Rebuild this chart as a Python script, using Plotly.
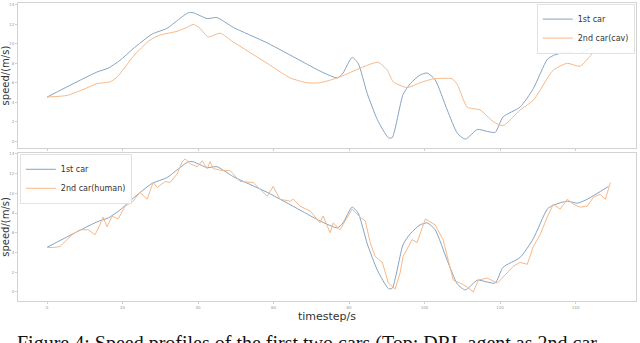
import plotly.graph_objects as go

# ---- data ----
lead_t = [0, 13.2, 16.2, 19.3, 22.8, 27.8, 31.8, 34.5, 37.4, 38.7, 40.5, 42.4, 45.0, 49.3,
          58.3, 67.0, 72.3, 76.9, 78.4, 80.8, 82.4, 84.8, 87.5, 90.4, 91.4, 94.3, 96.2,
          98.8, 100.7, 102.8, 106.0, 108.7, 110.8, 114.0, 116.6, 118.7, 120.8, 125.3,
          128.8, 132.5, 134.1, 137.8, 140.5, 143.1, 148.7]
lead_v = [4.53, 7.1, 7.5, 8.3, 9.5, 11.0, 11.6, 12.4, 13.2, 13.2, 12.9, 12.6, 12.7, 11.7,
          10.1, 8.3, 7.2, 6.5, 7.0, 8.6, 8.0, 4.9, 2.2, 0.35, 0.35, 4.8, 5.9,
          6.8, 7.0, 6.3, 3.2, 0.8, 0.2, 1.2, 1.0, 0.9, 2.5, 3.5,
          5.4, 8.4, 8.8, 9.2, 9.0, 9.4, 10.7]

cav_t = [0, 5.3, 9.5, 13.2, 16.7, 18.6, 22.8, 27.3, 29.9, 34.5, 37.1, 38.7, 40.5, 42.7,
         45.8, 49.3, 58.3, 64.4, 68.9, 72.3, 77.6, 82.9, 87.7, 90.1, 91.7, 95.4, 98.8,
         102.3, 107.3, 108.7, 111.3, 114.7, 118.2, 120.8, 125.3, 128.8, 134.1, 137.8,
         141.2, 144.7, 148.7]
cav_v = [4.53, 4.7, 5.3, 5.9, 6.1, 6.6, 8.7, 10.4, 10.9, 11.3, 11.7, 12.0, 11.6, 10.7,
         11.1, 10.2, 8.0, 6.5, 6.0, 6.0, 6.6, 7.5, 8.1, 7.3, 6.1, 5.5, 6.0,
         6.4, 6.4, 5.8, 3.5, 3.2, 2.0, 1.6, 3.2, 4.2, 7.3, 8.0,
         7.7, 9.1, 10.2]

human_t = [0, 1.6, 3.4, 6.6, 8.7, 10.9, 12.7, 14.0, 14.8, 15.9, 17.2, 18.8, 20.7, 22.8,
           24.6, 26.5, 28.1, 29.2, 31.3, 32.6, 34.5, 35.8, 36.6, 37.9, 39.8, 41.1, 42.4,
           43.2, 44.0, 46.6, 48.5, 51.1, 54.6, 58.3, 59.9, 61.7, 64.4, 65.2, 67.0, 69.7,
           72.3, 73.1, 75.0, 75.8, 77.6, 80.8, 82.9, 84.3, 85.6, 86.9, 88.8, 90.4, 92.2,
           93.5, 94.3, 96.7, 98.0, 99.4, 100.2, 102.8, 104.9, 107.6, 109.4, 111.3, 112.9,
           114.2, 116.6, 119.3, 121.9, 123.5, 125.3, 127.2, 128.8, 130.6, 132.5, 134.1,
           135.9, 137.8, 139.4, 141.2, 143.1, 144.7, 146.5, 147.9, 149.2]
human_v = [4.5, 4.5, 4.6, 5.8, 6.3, 6.3, 5.8, 6.8, 7.6, 6.6, 7.7, 7.4, 8.7, 9.2,
           10.1, 9.4, 11.1, 10.6, 11.2, 11.1, 12.0, 13.2, 13.5, 13.0, 12.7, 13.3, 12.5,
           13.2, 12.5, 12.3, 12.3, 11.2, 11.1, 9.7, 10.7, 9.4, 9.2, 9.4, 8.7, 8.2,
           7.0, 7.7, 6.0, 7.0, 6.3, 8.4, 7.6, 7.2, 5.0, 3.6, 3.0, 0.9, 0.3,
           1.9, 3.6, 5.3, 5.0, 6.6, 7.4, 6.8, 5.3, 1.2, 0.9, 0.5, 0.0,
           1.2, 1.4, 0.9, 1.9, 2.6, 3.0, 2.8, 4.6, 5.8, 7.6, 8.9,
           8.4, 9.4, 8.9, 8.6, 8.7, 9.6, 9.9, 9.4, 11.1]

x_tickvals = [0, 20, 40, 60, 80, 100, 120, 140]
x_ticktext = ["0", "20", "40", "60", "80", "100", "120", "140"]
y_tickvals = [0, 2, 4, 6, 8, 10, 12, 14]
y_ticktext = ["0", "2", "4", "6", "8", "10", "12", "14"]

BLUE = "#86a3c3"
ORANGE = "#f6b888"

fig = go.Figure()
fig.add_trace(go.Scatter(x=lead_t, y=lead_v, mode="lines", name="1st car",
                         line=dict(color=BLUE, width=1, shape="spline", smoothing=0.6),
                         xaxis="x", yaxis="y", legend="legend"))
fig.add_trace(go.Scatter(x=cav_t, y=cav_v, mode="lines", name="2nd car(cav)",
                         line=dict(color=ORANGE, width=1, shape="spline", smoothing=0.6),
                         xaxis="x", yaxis="y", legend="legend"))
fig.add_trace(go.Scatter(x=lead_t, y=lead_v, mode="lines", name="1st car",
                         line=dict(color=BLUE, width=1, shape="spline", smoothing=0.6),
                         xaxis="x2", yaxis="y2", legend="legend2"))
fig.add_trace(go.Scatter(x=human_t, y=human_v, mode="lines", name="2nd car(human)",
                         line=dict(color=ORANGE, width=1),
                         xaxis="x2", yaxis="y2", legend="legend2"))

axis_common = dict(showline=True, mirror=True, linecolor="#d2d2d2", linewidth=1,
                   showgrid=False, zeroline=False, ticks="outside", ticklen=2,
                   tickcolor="#cfcfcf", tickfont=dict(size=4, color="#9a9a9a"),
                   automargin=False)
XR = [-7.7, 156]

fig.update_layout(
    width=640, height=343,
    margin=dict(l=18, r=4, t=3, b=42, autoexpand=False),
    paper_bgcolor="white", plot_bgcolor="white",
    font=dict(family="DejaVu Sans", color="#333"),
    xaxis=dict(domain=[0, 1], anchor="y", range=XR, tickvals=x_tickvals,
               ticktext=x_ticktext, showticklabels=False, **axis_common),
    yaxis=dict(domain=[0.513, 1], anchor="x", range=[-0.72, 14.2], tickvals=y_tickvals,
               ticktext=y_ticktext,
               title=dict(text="speed/(m/s)", font=dict(size=10, color="#333"), standoff=1),
               **axis_common),
    xaxis2=dict(domain=[0, 1], anchor="y2", range=XR, tickvals=x_tickvals,
                ticktext=x_ticktext,
                title=dict(text="timestep/s", font=dict(size=11, color="#333"), standoff=1),
                **axis_common),
    yaxis2=dict(domain=[0, 0.497], anchor="x2", range=[-0.92, 14.1], tickvals=y_tickvals,
                ticktext=y_ticktext,
                title=dict(text="speed/(m/s)", font=dict(size=10, color="#333"), standoff=1),
                **axis_common),
    legend=dict(x=0.998, xanchor="right", y=0.998, yanchor="top",
                bgcolor="rgba(255,255,255,0.9)",
                bordercolor="#e2e2e2", borderwidth=1, font=dict(size=8, color="#333"),
                tracegroupgap=0),
    legend2=dict(x=0.003, xanchor="left", y=0.494, yanchor="top",
                 bgcolor="rgba(255,255,255,0.9)", bordercolor="#e2e2e2", borderwidth=1,
                 font=dict(size=8, color="#333"), tracegroupgap=0),
    showlegend=True,
)

fig.add_annotation(text="Figure 4: Speed profiles of the first two cars (Top: DRL agent as 2nd car",
                   xref="paper", yref="paper", x=-0.005, y=-0.098, xanchor="left",
                   yanchor="top", showarrow=False,
                   font=dict(family="Liberation Serif", size=20, color="#111"))

fig.write_html("out.html", config={"displayModeBar": False},
               post_script="document.body.style.margin='0';document.body.style.overflow='hidden';")
